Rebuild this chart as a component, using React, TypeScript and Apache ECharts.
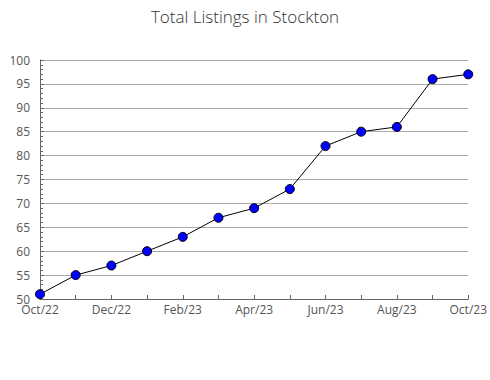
import React, { useEffect, useRef } from "react";
import * as echarts from "echarts";

const categories = ["Oct/22", "Nov/22", "Dec/22", "Jan/23", "Feb/23", "Mar/23", "Apr/23", "May/23", "Jun/23", "Jul/23", "Aug/23", "Sep/23", "Oct/23"];
const listings = [51, 55, 57, 60, 63, 67, 69, 73, 82, 85, 86, 96, 97];
const titleText = "Total Listings in Stockton";

export default function App() {
  const ref = useRef<HTMLDivElement>(null);
  useEffect(() => {
    if (!ref.current) return;
    const chart = echarts.init(ref.current, undefined, { renderer: "svg" });
    chart.setOption({
      animation: false,
      backgroundColor: "#ffffff",
      title: {
        text: titleText,
        left: "center",
        top: 3,
        textStyle: { fontFamily: "Open Sans", fontWeight: 300, fontSize: 17, color: "#333" },
      },
      grid: { left: 40, right: 19, top: 60, bottom: 81, containLabel: false },
      xAxis: {
        type: "category",
        data: categories,
        boundaryGap: false,
        axisLine: { lineStyle: { color: "#666", width: 1 } },
        axisTick: { show: true, inside: true, length: 4, interval: 0, lineStyle: { color: "#666" } },
        axisLabel: { interval: 1, color: "#555", fontFamily: "Open Sans", fontSize: 12, margin: 4 },
        splitLine: { show: false },
      },
      yAxis: {
        type: "value",
        min: 50,
        max: 100,
        interval: 5,
        axisLine: { show: true, lineStyle: { color: "#666", width: 1 } },
        axisTick: { show: true, inside: true, length: 4, lineStyle: { color: "#666" } },
        minorTick: { show: true, splitNumber: 5, length: 3, lineStyle: { color: "#666" } },
        axisLabel: { color: "#555", fontFamily: "Open Sans", fontSize: 12, margin: 10 },
        splitLine: { show: true, lineStyle: { color: "#aaa", width: 1 } },
      },
      series: [
        {
          type: "line",
          data: listings,
          symbol: "circle",
          symbolSize: 9,
          lineStyle: { color: "#000", width: 1 },
          itemStyle: { color: "#0000ff", borderColor: "#000", borderWidth: 1 },
        },
      ],
    });
    return () => chart.dispose();
  }, []);
  return <div ref={ref} style={{ position: "absolute", left: 0, top: 0, width: 490, height: 380 }} />;
}
